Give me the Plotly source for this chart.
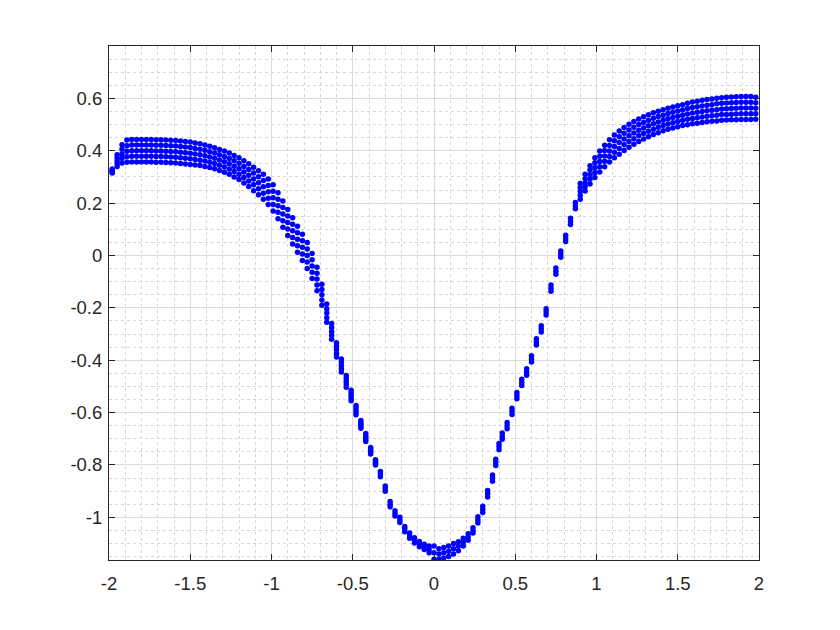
import plotly.graph_objects as go

# ---- tick labels ----
x_ticks = [-2, -1.5, -1, -0.5, 0, 0.5, 1, 1.5, 2]
x_tick_labels = ["-2", "-1.5", "-1", "-0.5", "0", "0.5", "1", "1.5", "2"]
y_ticks = [-1, -0.8, -0.6, -0.4, -0.2, 0, 0.2, 0.4, 0.6]
y_tick_labels = ["-1", "-0.8", "-0.6", "-0.4", "-0.2", "0", "0.2", "0.4", "0.6"]

# ---- left band (columns of dots, 5 rows per column) ----
left_x = [-1.98, -1.95, -1.92, -1.89, -1.86, -1.83, -1.80, -1.77, -1.74, -1.71, -1.68,
          -1.65, -1.62, -1.59, -1.56, -1.53, -1.50, -1.47, -1.44, -1.41, -1.38, -1.35,
          -1.32, -1.29, -1.26, -1.23, -1.20, -1.17, -1.14, -1.11, -1.08, -1.05, -1.02,
          -0.99, -0.96, -0.93, -0.90, -0.87, -0.84, -0.81, -0.78, -0.75, -0.72, -0.69,
          -0.66, -0.63, -0.60, -0.57, -0.54, -0.51, -0.48, -0.45, -0.42, -0.39, -0.36]
left_s1 = [0.330, 0.385, 0.423, 0.441, 0.443, 0.443, 0.443, 0.443, 0.443, 0.442, 0.442,
           0.441, 0.440, 0.439, 0.437, 0.435, 0.433, 0.430, 0.427, 0.422, 0.417, 0.411,
           0.405, 0.399, 0.391, 0.382, 0.373, 0.362, 0.350, 0.337, 0.324, 0.310, 0.292,
           0.270, 0.240, 0.208, 0.176, 0.144, 0.112, 0.081, 0.050, 0.008, -0.045, -0.110,
           -0.185, -0.260, -0.333, -0.395, -0.458, -0.515, -0.573, -0.630, -0.680, -0.733, -0.780]
left_s2 = [0.326, 0.373, 0.406, 0.419, 0.422, 0.422, 0.422, 0.422, 0.422, 0.421, 0.421,
           0.420, 0.419, 0.418, 0.416, 0.414, 0.412, 0.409, 0.406, 0.402, 0.396, 0.391,
           0.385, 0.378, 0.370, 0.362, 0.352, 0.340, 0.328, 0.315, 0.301, 0.286, 0.267,
           0.245, 0.215, 0.183, 0.151, 0.119, 0.087, 0.056, 0.025, -0.016, -0.068, -0.130,
           -0.203, -0.275, -0.346, -0.408, -0.469, -0.525, -0.581, -0.638, -0.688, -0.739, -0.785]
left_s3 = [0.322, 0.362, 0.388, 0.398, 0.400, 0.400, 0.400, 0.400, 0.400, 0.399, 0.399,
           0.398, 0.397, 0.396, 0.394, 0.392, 0.390, 0.388, 0.385, 0.381, 0.376, 0.371,
           0.365, 0.358, 0.350, 0.341, 0.331, 0.319, 0.306, 0.292, 0.278, 0.262, 0.243,
           0.220, 0.190, 0.158, 0.126, 0.094, 0.062, 0.031, 0.000, -0.040, -0.090, -0.150,
           -0.220, -0.290, -0.360, -0.420, -0.480, -0.535, -0.590, -0.645, -0.695, -0.745, -0.790]
left_s4 = [0.318, 0.351, 0.371, 0.377, 0.379, 0.379, 0.379, 0.379, 0.379, 0.378, 0.378,
           0.377, 0.376, 0.375, 0.373, 0.371, 0.369, 0.367, 0.364, 0.361, 0.356, 0.351,
           0.345, 0.338, 0.330, 0.321, 0.310, 0.298, 0.284, 0.270, 0.255, 0.238, 0.219,
           0.195, 0.165, 0.133, 0.101, 0.069, 0.037, 0.006, -0.025, -0.064, -0.113, -0.170,
           -0.238, -0.305, -0.374, -0.433, -0.491, -0.545, -0.599, -0.653, -0.703, -0.751, -0.795]
left_s5 = [0.315, 0.340, 0.353, 0.356, 0.357, 0.357, 0.357, 0.357, 0.357, 0.356, 0.356,
           0.355, 0.354, 0.353, 0.351, 0.349, 0.347, 0.346, 0.344, 0.340, 0.336, 0.331,
           0.325, 0.318, 0.310, 0.300, 0.290, 0.277, 0.263, 0.247, 0.232, 0.215, 0.195,
           0.170, 0.140, 0.108, 0.076, 0.044, 0.012, -0.019, -0.050, -0.088, -0.135, -0.190,
           -0.255, -0.320, -0.388, -0.445, -0.503, -0.555, -0.608, -0.660, -0.710, -0.758, -0.800]

# ---- middle (narrow trough, 3 rows per column) ----
mid_x = [-0.33, -0.30, -0.27, -0.24, -0.21, -0.18, -0.15,
         -0.12, -0.09, -0.06, -0.03, 0.00, 0.03, 0.06,
         0.09, 0.12, 0.15, 0.18, 0.21, 0.24, 0.27,
         0.30, 0.33, 0.36, 0.38, 0.40, 0.42, 0.45,
         0.48, 0.51, 0.54, 0.57, 0.60, 0.63, 0.66,
         0.69, 0.72, 0.75, 0.78, 0.81, 0.84, 0.87]
mid_s1 = [-0.825, -0.880, -0.940, -0.975, -1.000, -1.035, -1.060,
          -1.078, -1.092, -1.103, -1.110, -1.110, -1.120, -1.115,
          -1.110, -1.100, -1.093, -1.080, -1.063, -1.040, -0.998,
          -0.958, -0.898, -0.838, -0.778, -0.718, -0.678, -0.638,
          -0.583, -0.523, -0.473, -0.433, -0.383, -0.318, -0.268,
          -0.203, -0.113, -0.048, 0.017, 0.077, 0.142, 0.202]
mid_s2 = [-0.835, -0.890, -0.950, -0.985, -1.010, -1.045, -1.070,
          -1.088, -1.102, -1.113, -1.123, -1.135, -1.140, -1.135,
          -1.130, -1.120, -1.110, -1.095, -1.075, -1.050, -1.010,
          -0.970, -0.910, -0.850, -0.790, -0.730, -0.690, -0.650,
          -0.595, -0.535, -0.485, -0.445, -0.395, -0.330, -0.280,
          -0.215, -0.125, -0.060, 0.005, 0.065, 0.130, 0.190]
mid_s3 = [-0.845, -0.900, -0.960, -0.995, -1.020, -1.055, -1.080,
          -1.098, -1.112, -1.123, -1.135, -1.160, -1.160, -1.155,
          -1.150, -1.140, -1.128, -1.110, -1.088, -1.060, -1.022,
          -0.982, -0.922, -0.862, -0.802, -0.742, -0.702, -0.662,
          -0.607, -0.547, -0.497, -0.457, -0.407, -0.342, -0.292,
          -0.227, -0.137, -0.072, -0.007, 0.053, 0.118, 0.178]

# ---- right band (columns of dots, 5 rows per column) ----
right_x = [0.90, 0.93, 0.96, 0.99, 1.02, 1.05, 1.08, 1.11, 1.14, 1.17,
           1.20, 1.23, 1.26, 1.29, 1.32, 1.35, 1.38, 1.41, 1.44, 1.47,
           1.50, 1.53, 1.56, 1.59, 1.62, 1.65, 1.68, 1.71, 1.74, 1.77,
           1.80, 1.83, 1.86, 1.89, 1.92, 1.95, 1.98]
right_s1 = [0.275, 0.310, 0.343, 0.373, 0.399, 0.421, 0.442, 0.460, 0.475, 0.489,
            0.501, 0.512, 0.521, 0.530, 0.537, 0.545, 0.551, 0.557, 0.562, 0.567,
            0.572, 0.576, 0.581, 0.586, 0.589, 0.593, 0.596, 0.598, 0.600, 0.602,
            0.604, 0.605, 0.606, 0.607, 0.607, 0.607, 0.604]
right_s2 = [0.260, 0.294, 0.326, 0.354, 0.379, 0.401, 0.420, 0.438, 0.453, 0.467,
            0.479, 0.490, 0.500, 0.508, 0.516, 0.524, 0.531, 0.536, 0.542, 0.547,
            0.552, 0.556, 0.561, 0.565, 0.568, 0.571, 0.574, 0.576, 0.579, 0.581,
            0.582, 0.583, 0.584, 0.585, 0.585, 0.585, 0.583]
right_s3 = [0.245, 0.278, 0.308, 0.335, 0.359, 0.380, 0.399, 0.416, 0.431, 0.445,
            0.457, 0.468, 0.478, 0.487, 0.495, 0.503, 0.510, 0.516, 0.522, 0.527,
            0.532, 0.536, 0.540, 0.544, 0.547, 0.550, 0.553, 0.555, 0.557, 0.559,
            0.560, 0.561, 0.562, 0.563, 0.563, 0.563, 0.562]
right_s4 = [0.230, 0.262, 0.291, 0.316, 0.339, 0.360, 0.378, 0.394, 0.409, 0.423,
            0.435, 0.446, 0.457, 0.466, 0.474, 0.482, 0.490, 0.496, 0.502, 0.507,
            0.512, 0.516, 0.520, 0.523, 0.526, 0.529, 0.532, 0.534, 0.536, 0.538,
            0.538, 0.539, 0.540, 0.541, 0.541, 0.541, 0.541]
right_s5 = [0.215, 0.246, 0.273, 0.298, 0.319, 0.339, 0.357, 0.373, 0.387, 0.401,
            0.413, 0.425, 0.435, 0.445, 0.453, 0.462, 0.469, 0.476, 0.482, 0.487,
            0.492, 0.496, 0.499, 0.503, 0.505, 0.508, 0.511, 0.513, 0.514, 0.516,
            0.517, 0.518, 0.518, 0.519, 0.519, 0.519, 0.520]

all_x = (left_x * 5) + (mid_x * 3) + (right_x * 5)
all_y = (left_s1 + left_s2 + left_s3 + left_s4 + left_s5
         + mid_s1 + mid_s2 + mid_s3
         + right_s1 + right_s2 + right_s3 + right_s4 + right_s5)

fig = go.Figure()
fig.add_trace(go.Scatter(
    x=all_x, y=all_y, mode="markers",
    marker=dict(color="#0000ff", size=5.5, line=dict(width=0)),
    showlegend=False, hoverinfo="x+y",
))

axis_font = dict(family="Arial, Liberation Sans, sans-serif", size=18.5, color="#262626")
common = dict(
    showline=True, linecolor="#262626", linewidth=1, mirror="ticks",
    ticks="inside", ticklen=6, tickcolor="#262626", tickwidth=1,
    showgrid=True, gridcolor="#dcdcdc", gridwidth=1,
    zeroline=False, tickfont=axis_font, tickmode="array",
)

fig.update_xaxes(
    range=[-2, 2], tickvals=x_ticks, ticktext=x_tick_labels,
    ticklabelstandoff=7,
    minor=dict(tickmode="linear", tick0=0, dtick=0.1, showgrid=True,
               gridcolor="#d6d6d6", griddash="dot", gridwidth=1, ticks=""),
    **common,
)
fig.update_yaxes(
    range=[-1.163, 0.8], tickvals=y_ticks, ticktext=y_tick_labels,
    ticklabelstandoff=2,
    minor=dict(tickmode="linear", tick0=0, dtick=0.05, showgrid=True,
               gridcolor="#d6d6d6", griddash="dot", gridwidth=1, ticks=""),
    **common,
)

# page body has an 8px margin, so the figure is 832x622 placed at (8, 8)
fig.update_layout(
    width=832, height=622,
    margin=dict(l=101, r=81, t=38, b=70, pad=0),
    paper_bgcolor="white", plot_bgcolor="white",
    font=axis_font,
)

fig.write_html("out.html")
